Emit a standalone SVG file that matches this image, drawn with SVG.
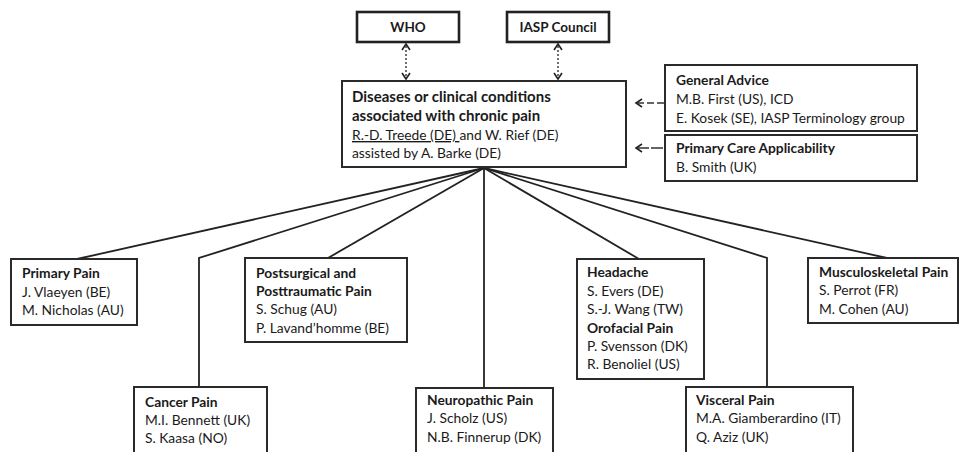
<svg xmlns="http://www.w3.org/2000/svg" width="960" height="452" viewBox="0 0 960 452">
<defs>
<style>
text{font-family:Lato,"Liberation Sans",sans-serif;fill:#1a1a1a;font-size:13.8px}
.b{font-weight:bold}
.m{font-size:15px}
.t{font-size:13.5px}
.box{fill:#fff;stroke:#2a2a2a;stroke-width:2}
.top{fill:#fff;stroke:#222;stroke-width:2.6}
.ln{stroke:#222;stroke-width:1.8;fill:none}
.dot{stroke:#333;stroke-width:1.4;fill:none;stroke-dasharray:2 2}
.dash{stroke:#333;stroke-width:1.5;fill:none;stroke-dasharray:7 3}
.head{stroke:#222;stroke-width:1.6;fill:none}
</style>
</defs>
<rect width="960" height="452" fill="#fff"/>
<g id="connectors">
<path class="ln" d="M484 168 L77 259"/>
<path class="ln" d="M484 168 L199 258 L199 387"/>
<path class="ln" d="M484 168 L328 258"/>
<path class="ln" d="M484 168 L484 388"/>
<path class="ln" d="M484 168 L639 259"/>
<path class="ln" d="M484 168 L767 258 L767 387"/>
<path class="ln" d="M484 168 L887 258"/>
<path class="dot" d="M406 46 L406 77"/>
<path class="head" d="M402 50 L406 44 L410 50 M402 73 L406 79 L410 73"/>
<path class="dot" d="M558 46 L558 77"/>
<path class="head" d="M554 50 L558 44 L562 50 M554 73 L558 79 L562 73"/>
<path class="dash" d="M637 103 L664 103"/>
<path class="head" d="M642 99 L636 103 L642 107"/>
<path class="dash" d="M637 148 L664 148" style="stroke-dasharray:12 2"/>
<path class="head" d="M642 144 L636 148 L642 152"/>
</g>
<g id="who">
<rect class="top" x="357" y="12" width="102" height="30"/>
<text class="b t" x="408" y="32" text-anchor="middle">WHO</text>
</g>
<g id="iasp">
<rect class="top" x="507" y="12" width="102" height="30"/>
<text class="b t" x="558" y="32" text-anchor="middle">IASP Council</text>
</g>
<g id="main">
<rect class="box" x="342" y="81" width="284" height="86"/>
<text class="b m" x="352" y="102">Diseases or clinical conditions</text>
<text class="b m" x="352" y="121">associated with chronic pain</text>
<text x="352" y="140"><tspan text-decoration="underline">R.-D. Treede (DE) </tspan>and W. Rief (DE)</text>
<text x="352" y="158">assisted by A. Barke (DE)</text>
</g>
<g id="general-advice">
<rect class="box" x="665" y="65" width="252" height="66"/>
<text class="b" x="676" y="85">General Advice</text>
<text x="676" y="104">M.B. First (US), ICD</text>
<text x="676" y="123">E. Kosek (SE), IASP Terminology group</text>
</g>
<g id="primary-care">
<rect class="box" x="665" y="135" width="252" height="46"/>
<text class="b" x="676" y="153">Primary Care Applicability</text>
<text x="676" y="172">B. Smith (UK)</text>
</g>
<g id="primary-pain">
<rect class="box" x="11" y="259" width="126" height="66"/>
<text class="b" x="22" y="278">Primary Pain</text>
<text x="22" y="297">J. Vlaeyen (BE)</text>
<text x="22" y="315">M. Nicholas (AU)</text>
</g>
<g id="cancer-pain">
<rect class="box" x="134" y="387" width="133" height="70"/>
<text class="b" x="145" y="407">Cancer Pain</text>
<text x="145" y="425">M.I. Bennett (UK)</text>
<text x="145" y="443">S. Kaasa (NO)</text>
</g>
<g id="postsurgical">
<rect class="box" x="245" y="258" width="162" height="84"/>
<text class="b" x="256" y="278">Postsurgical and</text>
<text class="b" x="256" y="296">Posttraumatic Pain</text>
<text x="256" y="314">S. Schug (AU)</text>
<text x="256" y="333">P. Lavand’homme (BE)</text>
</g>
<g id="neuropathic">
<rect class="box" x="416" y="388" width="137" height="70"/>
<text class="b" x="427" y="405">Neuropathic Pain</text>
<text x="427" y="423">J. Scholz (US)</text>
<text x="427" y="442">N.B. Finnerup (DK)</text>
</g>
<g id="headache">
<rect class="box" x="577" y="259" width="127" height="120"/>
<text class="b" x="587" y="277">Headache</text>
<text x="587" y="296">S. Evers (DE)</text>
<text x="587" y="314">S.-J. Wang (TW)</text>
<text class="b" x="587" y="333">Orofacial Pain</text>
<text x="587" y="351">P. Svensson (DK)</text>
<text x="587" y="369">R. Benoliel (US)</text>
</g>
<g id="visceral">
<rect class="box" x="686" y="387" width="167" height="70"/>
<text class="b" x="696" y="405">Visceral Pain</text>
<text x="696" y="423">M.A. Giamberardino (IT)</text>
<text x="696" y="442">Q. Aziz (UK)</text>
</g>
<g id="musculoskeletal">
<rect class="box" x="808" y="258" width="150" height="65"/>
<text class="b" x="819" y="277">Musculoskeletal Pain</text>
<text x="819" y="295">S. Perrot (FR)</text>
<text x="819" y="314">M. Cohen (AU)</text>
</g>
</svg>
